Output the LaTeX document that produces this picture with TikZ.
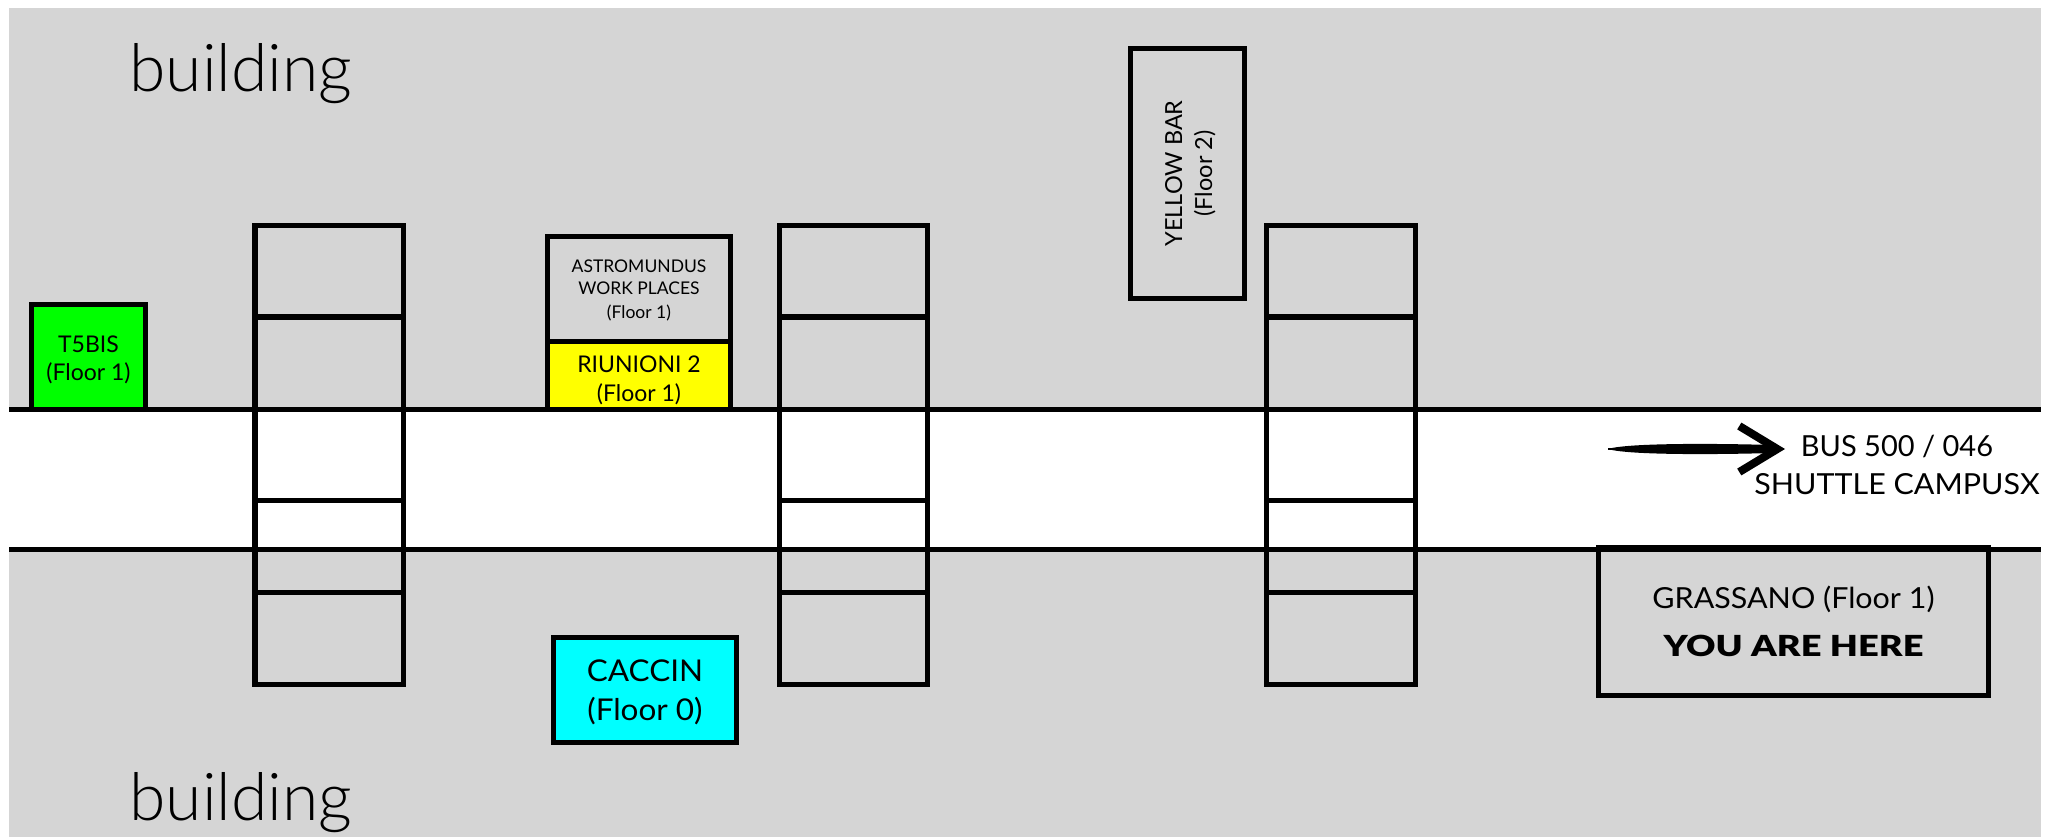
\documentclass[tikz,border=0pt]{standalone}
\usepackage{fontspec}
\setmainfont{Lato}
\newfontfamily\thinfont{Lato Light}
\newfontfamily\widefont[FakeStretch=1.05]{Lato}
\newfontfamily\heavyfont[FakeStretch=1.25]{Lato Black}
\usetikzlibrary{arrows.meta}

\definecolor{buildinggrey}{RGB}{213,213,213}
\definecolor{roomgreen}{RGB}{0,255,0}
\definecolor{roomyellow}{RGB}{255,255,0}
\definecolor{roomcyan}{RGB}{0,255,255}
\tikzstyle{boxed}=[rectangle, draw=black, line width=5.5pt, align=center, inner sep=0pt, text depth=0pt]
\tikzstyle{wall}=[draw=black, line width=5.5pt]
\tikzstyle{bigtext}=[inner sep=0pt, anchor=base, font=\thinfont\fontsize{66}{66}\selectfont]

\begin{document}
\begin{tikzpicture}[x=1pt, y=-1pt]
    \useasboundingbox (0,0) rectangle (2056,837);
    \fill[buildinggrey] (9,8) rectangle (2041,837);
    \fill[white] (9,409.5) rectangle (2041,549.5);

    \coordinate (roadtopleft) at (9,409.5);
    \coordinate (roadtopright) at (2041,409.5);
    \coordinate (roadbottomleft) at (9,549.5);
    \coordinate (roadbottomright) at (2041,549.5);
    \draw[wall] (roadtopleft) -- (roadtopright);
    \draw[wall] (roadbottomleft) -- (roadbottomright);

    \foreach \xa/\xb in {255/403.5, 779.5/927.5, 1266.5/1415.5} {
        \draw[wall] (\xa,225.5) rectangle (\xb,684.5);
        \foreach \yr in {317, 500.5, 592.5}
            \draw[wall] (\xa,\yr) -- (\xb,\yr);
    }

    \node[boxed, fill=roomgreen, minimum width=114pt, minimum height=105pt, text height=46pt, font=\fontsize{23}{28}\selectfont] (t5bis) at (88.5,357) {T5BIS\\(Floor 1)};

    \node[boxed, minimum width=183pt, minimum height=105pt, text height=58pt, font=\fontsize{17.5}{22}\selectfont] (astromundus) at (639,289) {ASTROMUNDUS\\WORK PLACES\\[2pt](Floor 1)};

    \node[boxed, fill=roomyellow, minimum width=183pt, minimum height=68pt, text height=52.4pt, font=\fontsize{23}{29.7}\selectfont] (riunioni) at (639,375.5) {RIUNIONI 2\\(Floor 1)};

    \node[boxed, rotate=90, minimum width=250pt, minimum height=114pt, text height=49pt, font=\fontsize{23.5}{30}\selectfont] (yellowbar) at (1187.5,173.5) {YELLOW BAR\\(Floor 2)};

    \node[boxed, fill=roomcyan, minimum width=183pt, minimum height=105pt, text height=60pt, font=\widefont\fontsize{30}{38.3}\selectfont] (caccin) at (645,690) {CACCIN\\(Floor 0)};

    \node[boxed, minimum width=390pt, minimum height=148pt, text height=69pt, font=\widefont\fontsize{29}{48}\selectfont] (grassano) at (1793.5,621.5) {GRASSANO (Floor 1)\\{\heavyfont YOU ARE HERE}};

    \node[inner sep=0pt, align=center, text depth=0pt, text height=54pt, font=\widefont\fontsize{29}{38}\selectfont] (bus) at (1897,467) {{\rmfamily BUS 500 / 046}\\SHUTTLE CAMPUSX};

    \coordinate (arrowtail) at (1608,449);
    \coordinate (arrowtip) at (1785,449);
    \fill (arrowtail) .. controls (1625,443.5) and (1700,443) .. (1772,445) -- (1772,453) .. controls (1700,455) and (1625,454.5) .. (arrowtail);
    \draw[line width=2pt, -{Straight Barb[length=38pt, width=46pt, line width=8pt]}] (arrowtail) -- (arrowtip);

    \node[bigtext] (buildingtop) at (241,92) {building};
    \node[bigtext] (buildingbottom) at (241,820) {building};
\end{tikzpicture}
\end{document}
